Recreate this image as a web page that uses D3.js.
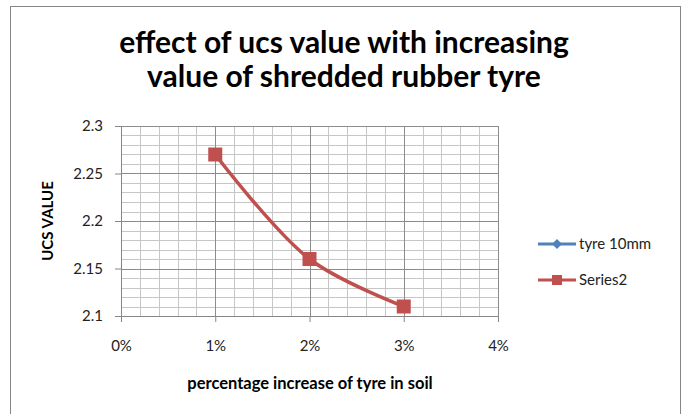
<!DOCTYPE html>
<html>
<head>
<meta charset="utf-8">
<script src="https://cdn.jsdelivr.net/npm/d3@7"></script>
<style>
  body { margin: 0; background: #fff; }
  svg { display: block; font-family: Lato, "Open Sans", sans-serif; }
</style>
</head>
<body>
<svg id="chart" width="683" height="414"></svg>
<script>
'use strict';

var titleLines = ['effect of ucs value with increasing', 'value of shredded rubber tyre'];
var xTitle = 'percentage increase of tyre in soil';
var yTitle = 'UCS VALUE';

// percent of tyre in soil
var tyrePercent = [0.01, 0.02, 0.03];
// tyre 10mm has no plotted points in the original
var tyre10mm = [];
var series2 = [2.27, 2.16, 2.11];

var xTicks = [0, 0.01, 0.02, 0.03, 0.04];
var yTicks = [2.1, 2.15, 2.2, 2.25, 2.3];

var legendNames = ['tyre 10mm', 'Series2'];
var legendColors = ['#4F81BD', '#C0504D'];

var plot = { left: 121, top: 126, right: 498, bottom: 316 };

var svg = d3.select('#chart');

// outer frame
svg.append('rect')
    .attr('x', 10.5)
    .attr('y', 6.5)
    .attr('width', 670)
    .attr('height', 420)
    .attr('fill', '#fff')
    .attr('stroke', '#868686');

var x = d3.scaleLinear()
    .domain([0, 0.04])
    .range([plot.left, plot.right]);

var y = d3.scaleLinear()
    .domain([2.1, 2.3])
    .range([plot.bottom, plot.top]);

// minor grid
var gridGroup = svg.append('g').attr('id', 'grid-group');

gridGroup.selectAll('line.minor-x')
    .data(d3.range(0, 21).map(function(i) { return i * 0.002; }))
    .enter()
    .append('line')
    .attr('class', 'minor-x')
    .attr('stroke', '#c6c6c6')
    .attr('x1', function(d) { return Math.round(x(d)) + 0.5; })
    .attr('x2', function(d) { return Math.round(x(d)) + 0.5; })
    .attr('y1', plot.top)
    .attr('y2', plot.bottom);

gridGroup.selectAll('line.minor-y')
    .data(d3.range(0, 21).map(function(i) { return 2.1 + i * 0.01; }))
    .enter()
    .append('line')
    .attr('class', 'minor-y')
    .attr('stroke', '#c6c6c6')
    .attr('x1', plot.left)
    .attr('x2', plot.right)
    .attr('y1', function(d) { return Math.round(y(d)) + 0.5; })
    .attr('y2', function(d) { return Math.round(y(d)) + 0.5; });

// major grid
gridGroup.selectAll('line.major-x')
    .data(xTicks)
    .enter()
    .append('line')
    .attr('class', 'major-x')
    .attr('stroke', '#8c8c8c')
    .attr('x1', function(d) { return Math.round(x(d)) + 0.5; })
    .attr('x2', function(d) { return Math.round(x(d)) + 0.5; })
    .attr('y1', plot.top)
    .attr('y2', plot.bottom);

gridGroup.selectAll('line.major-y')
    .data(yTicks)
    .enter()
    .append('line')
    .attr('class', 'major-y')
    .attr('stroke', '#8c8c8c')
    .attr('x1', plot.left)
    .attr('x2', plot.right)
    .attr('y1', function(d) { return Math.round(y(d)) + 0.5; })
    .attr('y2', function(d) { return Math.round(y(d)) + 0.5; });

// axes
var axisX = d3.axisBottom(x)
    .tickValues(xTicks)
    .tickFormat(d3.format('.0%'))
    .tickSizeInner(6)
    .tickSizeOuter(0)
    .tickPadding(18);

var axisY = d3.axisLeft(y)
    .tickValues(yTicks)
    .tickFormat(function(d) { return d3.format('')(+d.toFixed(2)); })
    .tickSizeInner(6)
    .tickSizeOuter(0)
    .tickPadding(12);

var gx = svg.append('g')
    .attr('transform', 'translate(0,' + plot.bottom + ')')
    .call(axisX);

var gy = svg.append('g')
    .attr('transform', 'translate(' + plot.left + ',0)')
    .call(axisY);

[gx, gy].forEach(function(g) {
    g.select('.domain').attr('stroke', '#868686');
    g.selectAll('.tick line').attr('stroke', '#868686');
    g.selectAll('.tick text')
        .attr('fill', '#222')
        .style('font-size', '15px')
        .style('font-family', 'Lato, "Open Sans", sans-serif');
});

// series line
var line = d3.line()
    .x(function(d, i) { return x(tyrePercent[i]); })
    .y(function(d) { return y(d); })
    .curve(d3.curveCatmullRom.alpha(0.5));

var lineGroup = svg.append('g').attr('id', 'line-group');

lineGroup.append('path')
    .datum(series2)
    .attr('fill', 'none')
    .attr('stroke', legendColors[1])
    .attr('stroke-width', 3.5)
    .attr('d', line);

lineGroup.selectAll('rect')
    .data(series2)
    .enter()
    .append('rect')
    .attr('x', function(d, i) { return x(tyrePercent[i]) - 7; })
    .attr('y', function(d) { return y(d) - 7; })
    .attr('width', 14)
    .attr('height', 14)
    .attr('fill', legendColors[1]);

// titles
svg.append('text')
    .attr('x', 344)
    .attr('text-anchor', 'middle')
    .style('font-size', '30px')
    .style('font-weight', 'bold')
    .attr('fill', '#000')
    .selectAll('tspan')
    .data(titleLines)
    .enter()
    .append('tspan')
    .attr('x', 344)
    .attr('y', function(d, i) { return 53 + i * 34; })
    .text(function(d) { return d; });

svg.append('text')
    .attr('x', 310)
    .attr('y', 389)
    .attr('text-anchor', 'middle')
    .style('font-size', '16.5px')
    .style('font-weight', 'bold')
    .text(xTitle);

svg.append('text')
    .attr('transform', 'translate(53,221) rotate(-90)')
    .attr('text-anchor', 'middle')
    .style('font-size', '15px')
    .style('font-weight', 'bold')
    .text(yTitle);

// legend
var legend = svg.append('g')
    .attr('transform', 'translate(538,244)');

var item = legend.selectAll('g')
    .data(legendNames)
    .enter()
    .append('g')
    .attr('transform', function(d, i) { return 'translate(0,' + i * 36 + ')'; });

item.append('line')
    .attr('x1', 0)
    .attr('x2', 38)
    .attr('stroke', function(d, i) { return legendColors[i]; })
    .attr('stroke-width', 3);

item.append('path')
    .attr('transform', 'translate(19,0)')
    .attr('d', function(d, i) {
        return i === 0 ? 'M0,-5L5,0L0,5L-5,0Z' : 'M-5,-5H5V5H-5Z';
    })
    .attr('fill', function(d, i) { return legendColors[i]; });

item.append('text')
    .attr('x', 41)
    .attr('y', 5)
    .style('font-size', '15px')
    .attr('fill', '#222')
    .text(function(d) { return d; });
</script>
</body>
</html>
